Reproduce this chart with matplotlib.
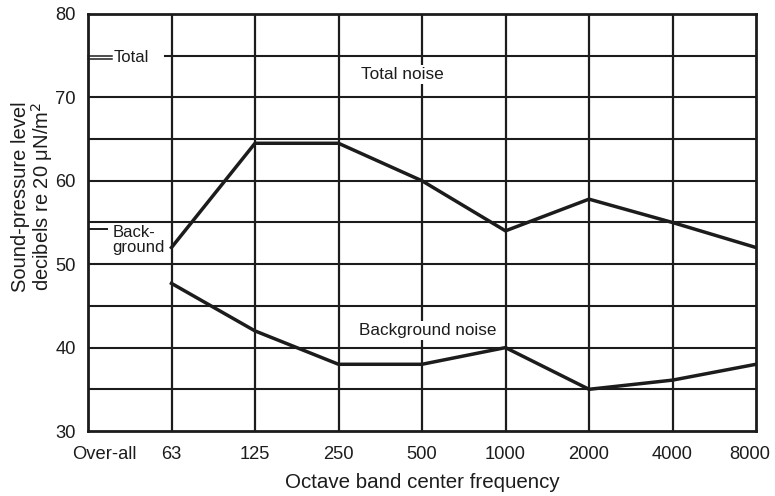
import matplotlib
matplotlib.use("Agg")
import matplotlib.pyplot as plt
import matplotlib.transforms as mtransforms

plt.rcParams['font.family'] = ['Liberation Sans', 'DejaVu Sans']

categories = ["Over-all", "63", "125", "250", "500", "1000", "2000", "4000", "8000"]
band_labels = categories[1:]
total_noise = [52, 64.5, 64.5, 60, 54, 57.8, 55, 52]
background_noise = [47.7, 42, 38, 38, 40, 35, 36.1, 38]
overall_total = 75
overall_background = 54.2
y_ticks = [30, 40, 50, 60, 70, 80]
grid_levels = [35, 40, 45, 50, 55, 60, 65, 70, 75]

ink = "#1c1c1c"
fig = plt.figure(figsize=(7.75, 4.96), dpi=100)
ax = fig.add_axes([88/775, 1-431/496, (756-88)/775, (431-14)/496])
ax.set_xlim(0, len(categories) - 1)
ax.set_ylim(30, 80)

# grid
for lv in grid_levels:
    if lv == overall_total:
        ax.axhline(lv, xmin=(165-88)/668, color=ink, lw=1.5, zorder=1)
    else:
        ax.axhline(lv, color=ink, lw=1.5, zorder=1)
for i in range(1, len(categories) - 1):
    ax.axvline(i, color=ink, lw=1.6, zorder=1)

for s in ax.spines.values():
    s.set_linewidth(2.0)
    s.set_color(ink)

xs = list(range(1, len(categories)))
ax.plot(xs, total_noise, color=ink, lw=2.5, zorder=3, solid_joinstyle='miter')
ax.plot(xs, background_noise, color=ink, lw=2.5, zorder=3, solid_joinstyle='miter')

# over-all markers
ax.plot([0, 0.29], [overall_total, overall_total], color=ink, lw=1.1, zorder=2, clip_on=False)
ax.plot([0, 0.29], [overall_total - 0.35, overall_total - 0.35], color=ink, lw=1.1, zorder=2, clip_on=False)
ax.text(0.31, overall_total - 0.2, "Total", fontsize=12, va='center', ha='left', color=ink)
ax.plot([0, 0.23], [overall_background, overall_background], color=ink, lw=1.4, zorder=2)
ax.text(0.29, overall_background + 0.45, "Back-\nground", fontsize=12, va='top', ha='left',
        color=ink, linespacing=1.0)

ax.text(3.76, 72.7, "Total noise", fontsize=12.4, ha='center', va='center', color=ink,
        bbox=dict(facecolor='white', edgecolor='none', pad=1.5), zorder=4)
ax.text(4.07, 42.0, "Background noise", fontsize=12.3, ha='center', va='center', color=ink,
        bbox=dict(facecolor='white', edgecolor='none', pad=1.5), zorder=4)

ax.set_xticks(range(len(categories)))
ax.set_xticklabels(categories, fontsize=13.2, color=ink)
ax.set_yticks(y_ticks)
ax.set_yticklabels([str(v) for v in y_ticks], fontsize=13.2, color=ink)
ax.tick_params(length=0, pad=9)
ax.tick_params(axis='x', pad=11)

offset = mtransforms.ScaledTranslation(16/100, 0, fig.dpi_scale_trans)
lbl = ax.get_xticklabels()[0]
lbl.set_transform(lbl.get_transform() + offset)
offset2 = mtransforms.ScaledTranslation(-6/100, 0, fig.dpi_scale_trans)
lbl2 = ax.get_xticklabels()[-1]
lbl2.set_transform(lbl2.get_transform() + offset2)

ax.set_xlabel("Octave band center frequency", fontsize=14.8, color=ink, labelpad=7)
ax.set_ylabel("Sound-pressure level\ndecibels re 20 \u03bcN/m$^2$", fontsize=14.5, color=ink,
              linespacing=0.92)
ax.yaxis.set_label_coords(-0.05, 0.563)

fig.savefig("out.png", dpi=100)
